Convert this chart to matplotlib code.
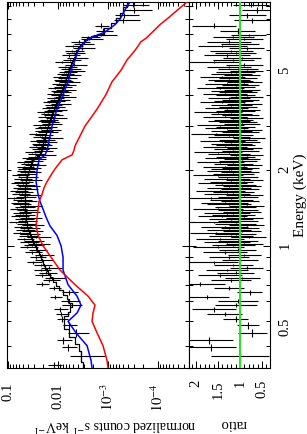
import numpy as np
import matplotlib.pyplot as plt
from matplotlib.ticker import FixedLocator, FuncFormatter, MultipleLocator, NullFormatter

plt.rcParams['font.family'] = ['Liberation Serif', 'DejaVu Serif']
plt.rcParams['mathtext.fontset'] = 'stix'

# model components (keV, counts s^-1 keV^-1)
e_model = [0.326, 0.35, 0.4, 0.45, 0.5, 0.54, 0.58, 0.63, 0.7, 0.8, 0.9, 1.0,
           1.1, 1.2, 1.3, 1.4, 1.5, 1.6, 1.7, 1.8, 2.0, 2.2, 2.3, 2.4, 2.5,
           3.0, 3.5, 4.0, 4.5, 5.0, 5.5, 6.0, 6.5, 6.7, 7.1, 7.6, 8.0, 9.0, 9.35]
comp_blue = [2.09e-3, 2.19e-3, 2.63e-3, 4.37e-3, 6.31e-3, 4.17e-3, 3.47e-3, 4.17e-3,
             6.31e-3, 7.94e-3, 7.94e-3, 8.71e-3, 1.05e-2, 1.45e-2, 1.74e-2, 2.00e-2,
             2.29e-2, 2.51e-2, 2.63e-2, 2.75e-2, 2.63e-2, 2.40e-2, 1.82e-2, 1.66e-2,
             1.58e-2, 1.32e-2, 1.05e-2, 7.94e-3, 6.31e-3, 5.50e-3, 4.57e-3, 3.98e-3,
             2.88e-3, 2.29e-3, 1.15e-3, 7.24e-4, 5.75e-4, 4.17e-4, 3.63e-4]
comp_red = [1.00e-3, 1.05e-3, 1.26e-3, 1.66e-3, 2.09e-3, 2.00e-3, 1.82e-3, 2.51e-3,
            4.57e-3, 9.12e-3, 1.38e-2, 2.00e-2, 2.51e-2, 2.75e-2, 2.63e-2, 2.51e-2,
            2.40e-2, 2.09e-2, 1.91e-2, 1.66e-2, 1.20e-2, 8.32e-3, 5.25e-3, 4.79e-3,
            4.57e-3, 2.88e-3, 1.66e-3, 1.10e-3, 8.32e-4, 5.50e-4, 4.17e-4, 2.88e-4,
            2.19e-4, 1.74e-4, 1.29e-4, 9.12e-5, 6.61e-5, 3.31e-5, 2.63e-5]

# spectral bins (keV edges)
bin_edges = [
    0.326, 0.345, 0.382, 0.407, 0.434, 0.467, 0.498, 0.526, 0.546, 0.572,
    0.593, 0.615, 0.638, 0.668, 0.693, 0.719,
    0.736, 0.754, 0.772, 0.790, 0.809, 0.828, 0.848, 0.868, 0.888, 0.909,
    0.931, 0.953, 0.976, 1.000,
    1.014, 1.028, 1.042, 1.057, 1.072, 1.087, 1.102, 1.117, 1.133, 1.149,
    1.165, 1.181, 1.197, 1.214, 1.231, 1.248, 1.266, 1.283, 1.301, 1.320,
    1.338, 1.357, 1.376, 1.395, 1.414, 1.434, 1.454, 1.474, 1.495, 1.516,
    1.537, 1.558, 1.580, 1.602, 1.624, 1.647, 1.670, 1.694, 1.717, 1.741,
    1.765, 1.790, 1.815, 1.840, 1.866, 1.892, 1.919, 1.945, 1.973, 2.000,
    2.026, 2.053, 2.080, 2.108, 2.135, 2.163,
    2.192, 2.221, 2.250, 2.280, 2.310, 2.340, 2.371,
    2.402, 2.434, 2.466, 2.498, 2.531, 2.564, 2.598,
    2.632, 2.667, 2.702, 2.738, 2.774, 2.810, 2.847,
    2.885, 2.923, 2.962, 3.001, 3.040, 3.081, 3.121,
    3.162, 3.204, 3.246, 3.289, 3.332, 3.376, 3.421,
    3.466, 3.511, 3.557, 3.604, 3.652, 3.700, 3.749,
    3.798, 3.848, 3.899, 3.950, 4.002, 4.055, 4.108,
    4.162, 4.217, 4.272, 4.329, 4.386, 4.443, 4.502,
    4.561, 4.621, 4.682, 4.744, 4.806, 4.870, 4.934, 5.000,
    5.106, 5.215, 5.326, 5.439, 5.554, 5.672, 5.793, 5.916, 6.042, 6.170,
    6.301, 6.435, 6.572, 6.712, 6.854, 7.000,
    7.346, 7.709, 8.091, 8.491, 8.910, 9.350]

# data/model ratio per bin and its error
ratio = [
    3.9, 1.0, 1.65, 1.7, 0.72, 0.82, 1.1, 1.35, 1.6, 1.1, 1.05, 1.75, 0.78, 1.25, 1.9,
    1.2, 0.95, 1.45, 1.1, 1.3, 0.85, 1.15, 1.6, 1.0, 1.25, 0.9, 1.35, 1.05, 1.5,
    1.15, 0.9, 1.3, 1.05, 1.45, 0.8, 1.2, 1.1, 1.55, 0.95,
    1.25, 1.0, 1.35, 0.85, 1.1, 1.6, 1.05, 1.2, 0.9, 1.4,
    1.15, 1.3, 0.95, 1.05, 1.5, 1.1, 0.85, 1.25, 1.35, 1.0,
    1.2, 1.65, 1.05, 0.9, 1.3, 1.15, 1.45, 1.0, 1.25, 0.95,
    1.1, 1.4, 1.2, 0.9, 1.3, 1.05, 1.5, 1.15, 1.0, 1.25,
    1.2, 1.0, 1.35, 0.9, 1.15, 1.45, 1.05, 0.95, 1.3, 1.1,
    0.85, 1.25, 1.5, 1.0, 1.15, 0.9, 1.35, 1.1, 1.2, 0.95,
    1.4, 1.05, 0.8, 1.25, 1.15, 1.55, 1.0, 1.2, 0.9, 1.3,
    1.1, 1.45, 0.95, 1.05, 1.25, 1.15, 0.85, 1.35, 1.0, 1.2,
    1.5, 1.1, 0.95, 1.3, 1.05, 1.2, 0.9, 1.4, 1.15, 1.0,
    1.25, 0.85, 1.1, 1.35, 1.05, 1.2, 0.95, 1.45, 1.1, 1.0,
    1.3, 0.9, 1.15, 1.25, 1.05, 1.4, 0.95, 1.2, 1.1, 0.85,
    1.05, 1.25, 0.9, 1.6, 1.15, 0.95, 1.3, 1.1, 1.2, 0.85, 1.4, 1.0, 1.25, 0.9, 1.15, 0.8,
    1.05, 1.6, 0.73, 0.84, 0.61, 0.75]
ratio_err = [
    1.2, 0.66, 0.55, 0.55, 0.33, 0.26, 0.28, 0.4, 0.5, 0.48, 0.45, 0.5, 0.28, 0.35, 0.55,
    0.45, 0.4, 0.5, 0.42, 0.48, 0.38, 0.44, 0.55, 0.4, 0.46, 0.38, 0.5, 0.42, 0.58,
    0.48, 0.42, 0.52, 0.45, 0.55, 0.4, 0.5, 0.46, 0.58, 0.43,
    0.5, 0.44, 0.53, 0.4, 0.46, 0.6, 0.45, 0.5, 0.42, 0.55,
    0.48, 0.52, 0.43, 0.45, 0.57, 0.46, 0.4, 0.5, 0.53, 0.44,
    0.49, 0.6, 0.45, 0.42, 0.52, 0.47, 0.56, 0.44, 0.5, 0.43,
    0.46, 0.55, 0.49, 0.41, 0.52, 0.45, 0.57, 0.47, 0.44, 0.5,
    0.46, 0.42, 0.5, 0.4, 0.45, 0.53, 0.43, 0.41, 0.49, 0.44,
    0.38, 0.47, 0.55, 0.42, 0.45, 0.39, 0.5, 0.44, 0.46, 0.41,
    0.52, 0.43, 0.37, 0.47, 0.45, 0.57, 0.42, 0.46, 0.39, 0.49,
    0.44, 0.53, 0.41, 0.43, 0.47, 0.45, 0.38, 0.5, 0.42, 0.46,
    0.55, 0.44, 0.41, 0.49, 0.43, 0.46, 0.39, 0.52, 0.45, 0.42,
    0.47, 0.38, 0.44, 0.5, 0.43, 0.46, 0.41, 0.53, 0.44, 0.42,
    0.49, 0.4, 0.45, 0.47, 0.43, 0.52, 0.41, 0.46, 0.44, 0.38,
    0.45, 0.5, 0.42, 0.6, 0.47, 0.43, 0.52, 0.46, 0.49, 0.4, 0.55, 0.44, 0.5, 0.42, 0.47, 0.4,
    0.4, 0.5, 0.4, 0.42, 0.35, 0.4]

e_model = np.array(e_model)
blue = np.array(comp_blue)
red = np.array(comp_red)
total = blue + red

edges = np.array(bin_edges)
e_lo, e_hi = edges[:-1], edges[1:]
e_mid = np.sqrt(e_lo * e_hi)
ratio = np.array(ratio)
ratio_err = np.array(ratio_err)

# total model per bin, data = ratio * model
tot_bin = 10 ** np.interp(np.log10(e_mid), np.log10(e_model), np.log10(total))
counts = ratio * tot_bin
counts_err = ratio_err * tot_bin
yerr = [e_mid - e_lo, e_hi - e_mid]

W, H = 307, 435
fig = plt.figure(figsize=(W / 100, H / 100), dpi=100)
ax = fig.add_axes([7 / W, 1 - 369 / H, (189 - 7) / W, (369 - 3) / H])
axr = fig.add_axes([189 / W, 1 - 369 / H, (270 - 189) / W, (369 - 3) / H], sharey=ax)

# counts panel
ax.errorbar(counts, e_mid, xerr=counts_err, yerr=yerr, fmt='none',
            ecolor='k', elinewidth=0.8, capsize=0, zorder=2)
ax.plot(np.repeat(tot_bin, 2), np.column_stack([e_lo, e_hi]).ravel(),
        color='k', lw=0.9, zorder=3)
ax.plot(blue, e_model, color='#0000ff', lw=1.1, zorder=4)
ax.plot(red, e_model, color='#ff0000', lw=1.1, zorder=4)
ax.set_xscale('log')
ax.set_yscale('log')
ax.set_xlim(0.105, 2.4e-5)
ax.set_ylim(0.326, 9.35)

count_labels = {0.1: '0.1', 0.01: '0.01', 1e-3: '$10^{-3}$', 1e-4: '$10^{-4}$'}
ax.xaxis.set_major_locator(FixedLocator([0.1, 0.01, 1e-3, 1e-4]))
ax.xaxis.set_minor_locator(FixedLocator([m * 10.0 ** d for d in range(-5, -1)
                                         for m in range(2, 10)]))
ax.xaxis.set_major_formatter(FuncFormatter(
    lambda v, p: min(count_labels.items(), key=lambda kv: abs(np.log10(kv[0] / v)))[1]))
ax.xaxis.set_minor_formatter(NullFormatter())

# energy ticks (shared by both panels)
en_labels = {0.5: '0.5', 1: '1', 2: '2', 5: '5'}
ax.yaxis.set_major_locator(FixedLocator([1, 10]))
ax.yaxis.set_minor_locator(FixedLocator([0.4, 0.5, 0.6, 0.7, 0.8, 0.9,
                                         2, 3, 4, 5, 6, 7, 8, 9]))
ax.yaxis.set_major_formatter(FuncFormatter(lambda v, p: en_labels.get(round(v, 2), '')))
ax.yaxis.set_minor_formatter(FuncFormatter(lambda v, p: en_labels.get(round(v, 2), '')))

# ratio panel
axr.errorbar(ratio, e_mid, xerr=ratio_err, yerr=yerr, fmt='none',
             ecolor='k', elinewidth=0.8, capsize=0, zorder=2)
axr.axvline(1.0, color='#2ee02e', lw=1.5, zorder=4)
axr.set_xlim(2.16, 0.32)
axr.xaxis.set_major_locator(MultipleLocator(0.5))
axr.xaxis.set_minor_locator(MultipleLocator(0.1))
axr.xaxis.set_major_formatter(FuncFormatter(lambda v, p: '%g' % v))

for a in (ax, axr):
    a.tick_params(which='both', direction='in', top=True, bottom=True,
                  left=True, right=True, width=0.75, colors='k')
    a.tick_params(which='major', length=5)
    a.tick_params(which='minor', length=2.6)
    a.tick_params(axis='x', which='both', labelrotation=90, labelsize=10.5)
    for s in a.spines.values():
        s.set_linewidth(0.8)

ax.tick_params(axis='x', which='both', pad=10)
axr.tick_params(axis='x', which='both', pad=8)
ax.tick_params(axis='y', which='both', labelleft=False, labelright=False)
axr.tick_params(axis='y', which='both', labelleft=False, labelright=True,
                labelrotation=90, labelsize=10.5, pad=6)

fig.text(115 / W, 1 - 425 / H, 'normalized counts s$^{-1}$ keV$^{-1}$',
         rotation=180, ha='center', va='center', fontsize=10)
fig.text(233 / W, 1 - 424 / H, 'ratio', rotation=180, ha='center', va='center',
         fontsize=10.5)
fig.text(300 / W, 1 - 195 / H, 'Energy (keV)', rotation=90, ha='center',
         va='center', fontsize=11)

fig.savefig('out.png', dpi=100)
